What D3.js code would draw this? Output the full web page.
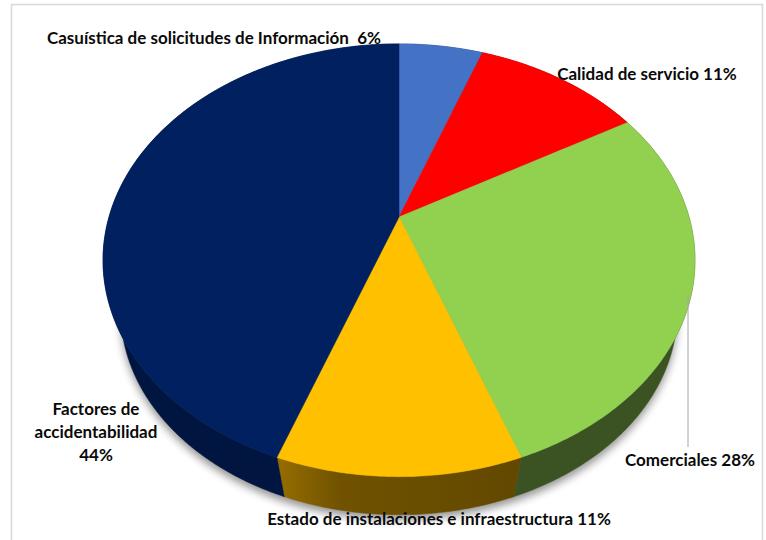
<!DOCTYPE html>
<html lang="es">
<head>
  <meta charset="utf-8">
  <title>Casuística</title>
  <script src="https://d3js.org/d3.v7.min.js"></script>
  <style>
    html, body { margin: 0; padding: 0; background: #fff; }
    svg { display: block; }
    text { font-family: Lato, "Open Sans", sans-serif; font-weight: 700; font-size: 17px; fill: #0a0a0a; white-space: pre; }
  </style>
</head>
<body>
  <div id="chart"></div>
  <script>
    // Slices, clockwise from 12 o'clock
    const categories = ["Casuística", "Calidad", "Comerciales", "Estado", "Factores"];
    const counts = [1, 2, 5, 2, 8];
    const topColors = ["#4472c4", "#ff0000", "#92d050", "#ffc000", "#002060"];
    const sideColors = ["#223962", "#800000", "#3b5323", "url(#yellowSide)", "#00153f"];

    const labels = [
      { lines: ["Casuística de solicitudes de Información  6%"], x: 214, y: 44 },
      { lines: ["Calidad de servicio 11%"], x: 647, y: 80 },
      { lines: ["Comerciales 28%"], x: 690, y: 466 },
      { lines: ["Estado de instalaciones e infraestructura 11%"], x: 439, y: 525 },
      { lines: ["Factores de", "accidentabilidad", "44%"], x: 96, y: 415 }
    ];

    const width = 766, height = 540;

    // Perspective view of the disc: the apex sits above the centre of the ellipse
    const cx = 399, tilt = 0.2;
    const upperFace = { y0: 217, a: 290, b: 207.7 };
    const lowerFace = { y0: 271, a: 272.6, b: 195 };

    function project(face, angle) {
      const u = Math.sin(angle), v = Math.cos(angle), w = 1 + tilt * v;
      return [cx + face.a * u / w, face.y0 - face.b * v / w];
    }

    const line = d3.line();

    function arcPoints(face, d) {
      const steps = d3.range(d.startAngle, d.endAngle, 0.01).concat(d.endAngle);
      return steps.map(t => project(face, t));
    }

    const svg = d3.select("#chart").append("svg")
      .attr("width", width)
      .attr("height", height);

    const defs = svg.append("defs");

    const blur = defs.append("filter")
      .attr("id", "soft")
      .attr("x", "-10%").attr("y", "-10%")
      .attr("width", "120%").attr("height", "120%");
    blur.append("feGaussianBlur").attr("stdDeviation", 4);

    const grad = defs.append("linearGradient")
      .attr("id", "yellowSide")
      .attr("gradientUnits", "userSpaceOnUse")
      .attr("x1", 280).attr("x2", 520).attr("y1", 0).attr("y2", 0);
    grad.append("stop").attr("offset", "0%").attr("stop-color", "#946c00");
    grad.append("stop").attr("offset", "25%").attr("stop-color", "#705200");
    grad.append("stop").attr("offset", "100%").attr("stop-color", "#624800");

    // Frame
    svg.append("rect")
      .attr("x", 11.5).attr("y", 4.5)
      .attr("width", 751).attr("height", 545)
      .attr("fill", "#fff")
      .attr("stroke", "#d9d9d9")
      .attr("stroke-width", 1.6);

    const pie = d3.pie().sort(null).value(d => d);
    const slices = pie(counts);
    const whole = { startAngle: 0, endAngle: 2 * Math.PI };

    // Shadow under the disc
    svg.append("path")
      .attr("d", line(arcPoints(lowerFace, whole)) + "Z")
      .attr("transform", "translate(0,5)")
      .attr("fill", "#000")
      .attr("opacity", 0.42)
      .attr("filter", "url(#soft)");

    // Side wall
    svg.append("g").selectAll("path")
      .data(slices)
      .join("path")
      .attr("d", d => {
        const upper = arcPoints(upperFace, d), lower = arcPoints(lowerFace, d).reverse();
        return line(upper.concat(lower)) + "Z";
      })
      .attr("fill", (d, i) => sideColors[i])
      .attr("stroke", (d, i) => sideColors[i])
      .attr("stroke-width", 0.5);

    // Top face
    svg.append("g").selectAll("path")
      .data(slices)
      .join("path")
      .attr("class", (d, i) => "slice " + categories[i])
      .attr("d", d => line([[cx, upperFace.y0]].concat(arcPoints(upperFace, d))) + "Z")
      .attr("fill", (d, i) => topColors[i])
      .attr("stroke", (d, i) => topColors[i])
      .attr("stroke-width", 0.5);

    // Leader for Comerciales
    svg.append("line")
      .attr("x1", 688).attr("x2", 688)
      .attr("y1", 294).attr("y2", 447)
      .attr("stroke", "#a6a6a6")
      .attr("stroke-width", 1);

    // Labels
    const lineHeight = 23;
    const label = svg.append("g").selectAll("text")
      .data(labels)
      .join("text")
      .attr("text-anchor", "middle")
      .attr("y", d => d.y);
    label.selectAll("tspan")
      .data(d => d.lines.map((t, i) => ({ t, i, x: d.x })))
      .join("tspan")
      .attr("x", d => d.x)
      .attr("dy", d => d.i ? lineHeight : 0)
      .text(d => d.t);
  </script>
</body>
</html>
